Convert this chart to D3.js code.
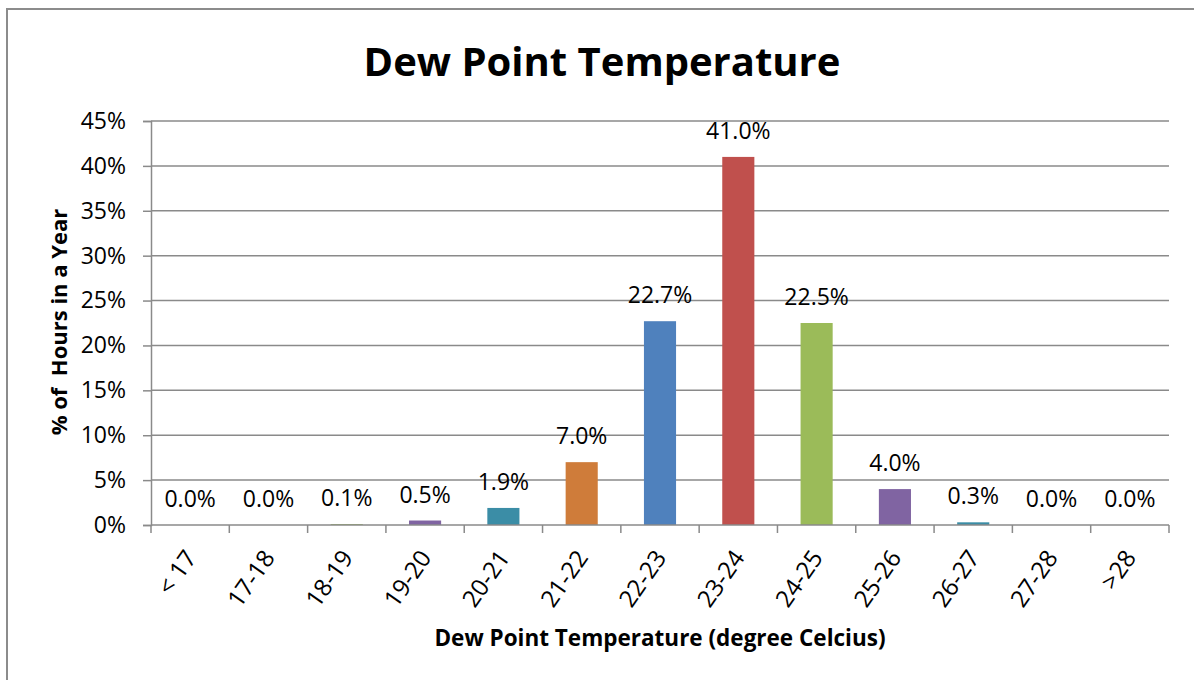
<!DOCTYPE html>
<html>
<head>
<meta charset="utf-8">
<script src="https://cdn.jsdelivr.net/npm/d3@7"></script>
<style>
  html, body { margin: 0; padding: 0; background: #fff; }
  svg { display: block; font-family: "Open Sans", sans-serif; }
</style>
</head>
<body>
<svg id="chart" width="1194" height="680"></svg>
<script>
// Dew point temperature bins and share of hours per year (%)
const categories = ["< 17", "17-18", "18-19", "19-20", "20-21", "21-22", "22-23",
                    "23-24", "24-25", "25-26", "26-27", "27-28", ">28"];
const values = [0.0, 0.0, 0.1, 0.5, 1.9, 7.0, 22.7, 41.0, 22.5, 4.0, 0.3, 0.0, 0.0];
const yTicks = [0, 5, 10, 15, 20, 25, 30, 35, 40, 45];
const palette = ["#4F81BD", "#C0504D", "#9BBB59", "#8064A2", "#3B8DA6", "#CF7C3A"];

const svg = d3.select("#chart");
const plot = { left: 151, right: 1169, top: 121, bottom: 525 };

// outer chart frame
svg.append("rect")
  .attr("x", 7).attr("y", 9).attr("width", 1200).attr("height", 700)
  .attr("fill", "none").attr("stroke", "#8c8c8c").attr("stroke-width", 2);

const x = d3.scaleBand().domain(categories)
  .range([plot.left, plot.right]).paddingInner(0.59).paddingOuter(0.295);
const y = d3.scaleLinear().domain([0, 45]).range([plot.bottom, plot.top]);

const gridColor = "#8a8a8a";

// horizontal gridlines
svg.append("g").selectAll("line").data(yTicks.filter(d => d > 0)).join("line")
  .attr("x1", plot.left).attr("x2", plot.right)
  .attr("y1", d => y(d)).attr("y2", d => y(d))
  .attr("stroke", gridColor).attr("stroke-width", 1.5);

// y axis
const yAxis = svg.append("g").attr("transform", `translate(${plot.left},0)`)
  .call(d3.axisLeft(y).tickValues(yTicks).tickFormat(d => d + "%").tickSize(8).tickPadding(17));
yAxis.select(".domain").attr("stroke", gridColor).attr("stroke-width", 1.5);
yAxis.selectAll(".tick line").attr("stroke", gridColor).attr("stroke-width", 1.5);
yAxis.selectAll(".tick text").attr("fill", "#000").attr("font-size", 23)
  .attr("font-family", "'Open Sans', sans-serif");

// bars
svg.append("g").selectAll("rect").data(values).join("rect")
  .attr("x", (d, i) => x(categories[i]))
  .attr("width", x.bandwidth())
  .attr("y", d => y(d))
  .attr("height", d => y(0) - y(d))
  .attr("fill", (d, i) => palette[i % palette.length]);

// value labels
svg.append("g").selectAll("text").data(values).join("text")
  .attr("x", (d, i) => x(categories[i]) + x.bandwidth() / 2)
  .attr("y", d => y(d) - 18)
  .attr("text-anchor", "middle")
  .attr("font-size", 23)
  .attr("fill", "#000")
  .text(d => d.toFixed(1) + "%");

// x axis line and ticks at band boundaries
const step = x.step();
const xAxisG = svg.append("g");
xAxisG.append("line")
  .attr("x1", plot.left).attr("x2", plot.right)
  .attr("y1", plot.bottom).attr("y2", plot.bottom)
  .attr("stroke", gridColor).attr("stroke-width", 1.5);
xAxisG.selectAll("line.tk").data(d3.range(categories.length + 1)).join("line")
  .attr("class", "tk")
  .attr("x1", i => plot.left + i * step).attr("x2", i => plot.left + i * step)
  .attr("y1", plot.bottom).attr("y2", plot.bottom + 8)
  .attr("stroke", gridColor).attr("stroke-width", 1.5);

// slanted category labels
xAxisG.selectAll("text").data(categories).join("text")
  .attr("transform", d => `translate(${x(d) + x.bandwidth() / 2 + 0.5},${plot.bottom + 28}) rotate(-55)`)
  .attr("text-anchor", "end")
  .attr("dy", "0.35em")
  .attr("font-size", 24)
  .attr("fill", "#000")
  .text(d => d);

// title
svg.append("text")
  .attr("x", 602).attr("y", 76)
  .attr("text-anchor", "middle")
  .attr("font-size", 40).attr("font-weight", "bold")
  .attr("fill", "#000")
  .text("Dew Point Temperature");

// axis titles
svg.append("text")
  .attr("x", 660).attr("y", 646)
  .attr("text-anchor", "middle")
  .attr("font-size", 22.5).attr("font-weight", "bold")
  .attr("fill", "#000")
  .text("Dew Point Temperature (degree Celcius)");

svg.append("text")
  .attr("transform", "translate(67,322) rotate(-90)")
  .attr("text-anchor", "middle")
  .attr("font-size", 22).attr("font-weight", "bold")
  .attr("fill", "#000")
  .text("% of\u00a0 Hours in a Year");
</script>
</body>
</html>
